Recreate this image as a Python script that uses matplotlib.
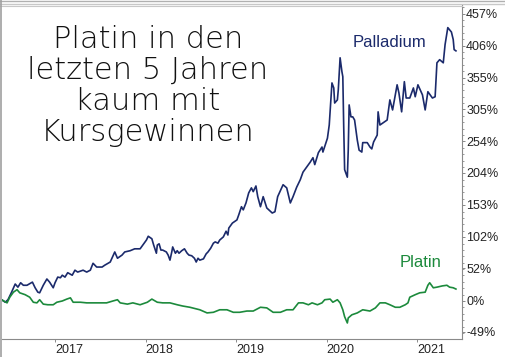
import matplotlib.pyplot as plt
from matplotlib.ticker import FixedLocator, MultipleLocator
from matplotlib.lines import Line2D

# Kursentwicklung seit Mai 2016 in Prozent (Zeit als Dezimaljahr)
pall_t = [2016.41, 2016.45, 2016.48, 2016.52, 2016.56, 2016.59, 2016.62, 2016.65, 2016.69, 2016.75,
          2016.78, 2016.81, 2016.83, 2016.87, 2016.91, 2016.94, 2016.98, 2017.00, 2017.03, 2017.06,
          2017.08, 2017.11, 2017.14, 2017.19, 2017.22, 2017.25, 2017.31, 2017.35, 2017.39, 2017.42,
          2017.46, 2017.52, 2017.55, 2017.61, 2017.66, 2017.69, 2017.74, 2017.77, 2017.83, 2017.88,
          2017.94, 2017.97, 2018.01, 2018.03, 2018.07, 2018.09, 2018.12, 2018.13, 2018.15, 2018.17,
          2018.19, 2018.23, 2018.25, 2018.27, 2018.29, 2018.30, 2018.33, 2018.35, 2018.37, 2018.40,
          2018.43, 2018.46, 2018.48, 2018.51, 2018.54, 2018.56, 2018.58, 2018.60, 2018.64, 2018.67,
          2018.69, 2018.72, 2018.75, 2018.77, 2018.80, 2018.82, 2018.86, 2018.87, 2018.89, 2018.91,
          2018.92, 2018.96, 2018.98, 2019.01, 2019.03, 2019.06, 2019.08, 2019.11, 2019.14, 2019.17,
          2019.19, 2019.22, 2019.24, 2019.27, 2019.30, 2019.34, 2019.40, 2019.43, 2019.46, 2019.52,
          2019.56, 2019.60, 2019.63, 2019.67, 2019.71, 2019.74, 2019.78, 2019.82, 2019.85, 2019.87,
          2019.91, 2019.95, 2019.96, 2020.01, 2020.03, 2020.06, 2020.08, 2020.09, 2020.12, 2020.13,
          2020.15, 2020.17, 2020.18, 2020.19, 2020.20, 2020.23, 2020.24, 2020.25, 2020.27, 2020.29,
          2020.31, 2020.34, 2020.36, 2020.39, 2020.40, 2020.45, 2020.48, 2020.50, 2020.52, 2020.56,
          2020.57, 2020.59, 2020.67, 2020.70, 2020.73, 2020.78, 2020.80, 2020.83, 2020.86, 2020.88,
          2020.92, 2020.96, 2020.98, 2021.01, 2021.06, 2021.09, 2021.12, 2021.17, 2021.20, 2021.22,
          2021.25, 2021.29, 2021.31, 2021.34, 2021.38, 2021.40, 2021.41, 2021.43]
pall_v = [2, -2, 2, 14, 27, 22, 29, 25, 25, 30,
          21, 14, 13, 25, 35, 30, 21, 29, 38, 37,
          41, 38, 45, 41, 49, 46, 49, 46, 49, 60,
          54, 54, 57, 62, 78, 68, 73, 78, 80, 83,
          83, 89, 97, 103, 99, 89, 76, 89, 91, 81,
          81, 78, 73, 65, 78, 86, 76, 80, 76, 80,
          83, 76, 73, 72, 68, 62, 68, 65, 67, 75,
          78, 84, 92, 94, 92, 97, 102, 105, 111, 105,
          116, 124, 126, 129, 137, 150, 145, 156, 172, 180,
          174, 183, 166, 150, 166, 148, 140, 142, 166, 185,
          180, 156, 166, 181, 193, 205, 213, 221, 228, 217,
          236, 245, 237, 259, 280, 347, 339, 315, 320, 336,
          387, 365, 357, 277, 209, 197, 240, 312, 293, 293,
          288, 256, 240, 237, 252, 252, 245, 242, 253, 264,
          301, 280, 288, 320, 304, 344, 331, 301, 349, 323,
          323, 339, 325, 344, 328, 304, 333, 323, 325, 379,
          384, 379, 408, 435, 428, 416, 400, 398]

plat_t = [2016.41, 2016.47, 2016.50, 2016.54, 2016.58, 2016.61, 2016.67, 2016.72, 2016.76, 2016.80,
          2016.83, 2016.87, 2016.92, 2016.98, 2017.02, 2017.08, 2017.13, 2017.17, 2017.20, 2017.28,
          2017.35, 2017.42, 2017.50, 2017.57, 2017.64, 2017.69, 2017.72, 2017.80, 2017.86, 2017.94,
          2018.02, 2018.07, 2018.13, 2018.19, 2018.27, 2018.35, 2018.41, 2018.49, 2018.60, 2018.68,
          2018.75, 2018.82, 2018.90, 2018.97, 2019.04, 2019.12, 2019.19, 2019.27, 2019.34, 2019.41,
          2019.49, 2019.56, 2019.63, 2019.69, 2019.74, 2019.80, 2019.84, 2019.90, 2019.95, 2019.98,
          2020.04, 2020.07, 2020.12, 2020.15, 2020.18, 2020.20, 2020.23, 2020.24, 2020.28, 2020.34,
          2020.40, 2020.48, 2020.54, 2020.59, 2020.65, 2020.70, 2020.76, 2020.81, 2020.87, 2020.90,
          2020.92, 2020.98, 2021.03, 2021.09, 2021.12, 2021.14, 2021.18, 2021.22, 2021.28, 2021.33,
          2021.36, 2021.40, 2021.43]
plat_v = [2, -3, 6, 14, 18, 13, 10, 6, -2, -3,
          2, -5, -6, -6, -2, 0, 3, 5, -2, -2,
          -3, -3, -3, -3, 0, 2, -3, -5, -3, -6,
          -2, 3, -2, -3, -3, -6, -8, -10, -14, -19,
          -18, -14, -14, -18, -18, -16, -16, -10, -11, -18,
          -18, -14, -14, -3, -3, -6, -3, -6, -3, 2,
          3, -2, 2, -3, -14, -25, -35, -27, -22, -19,
          -14, -16, -11, -3, -3, -6, -10, -10, -6, -3,
          6, 10, 13, 14, 25, 29, 21, 22, 24, 25,
          22, 21, 19]

year_ticks = [2017, 2018, 2019, 2020, 2021]
pct_ticks = [-49, 0, 52, 102, 153, 204, 254, 305, 355, 406, 457]
pct_labels = ['%d%%' % p for p in pct_ticks]

title = 'Platin in den\nletzten 5 Jahren\nkaum mit\nKursgewinnen'

navy = '#1b2a6b'
green = '#1c8a3c'

fig = plt.figure(figsize=(5.06, 3.57), dpi=100)
ax = fig.add_axes([2/506, 18/357, 460/506, 334/357])

ax.plot(pall_t, pall_v, color=navy, lw=1.2)
ax.plot(plat_t, plat_v, color=green, lw=1.2)

ax.set_xlim(2016.414, 2021.497)
ax.set_ylim(-60.5, 471)

ax.yaxis.tick_right()
ax.yaxis.set_major_locator(FixedLocator(pct_ticks))
ax.set_yticklabels(pct_labels)
ax.yaxis.set_minor_locator(MultipleLocator(10.16))
ax.xaxis.set_major_locator(FixedLocator(year_ticks))
ax.set_xticklabels([str(y) for y in year_ticks], ha='left')

for side in ['left', 'top']:
    ax.spines[side].set_visible(False)
for side in ['right', 'bottom']:
    ax.spines[side].set_color('#8a8a8a')
    ax.spines[side].set_linewidth(0.8)
ax.tick_params(axis='y', which='major', length=2.5, width=0.7, color='#8a8a8a',
               pad=0.5, labelsize=9, labelcolor='#222222')
ax.tick_params(axis='y', which='minor', length=1.2, width=0.6, color='#8a8a8a')
ax.tick_params(axis='x', which='major', length=2.5, width=0.7, color='#8a8a8a',
               pad=1, labelsize=9, labelcolor='#222222')
for lab in ax.get_xticklabels() + ax.get_yticklabels():
    lab.set_family('Liberation Sans')

ax.text(2020.70, 412, 'Palladium', color=navy, fontsize=12, family='Liberation Sans',
        ha='center', va='center')
ax.text(2021.04, 62, 'Platin', color=green, fontsize=12, family='Liberation Sans',
        ha='center', va='center')

fig.text(148/506, 1 - 25/357, title, ha='center', va='top', fontsize=22,
         family='DejaVu Sans', fontweight='light', linespacing=1.08, color='#111111')

# grauer Rahmen oben und links
fig.add_artist(Line2D([0, 1], [1 - 1/357, 1 - 1/357], color='#b0b0b0', lw=1))
fig.add_artist(Line2D([0, 1], [1 - 4/357, 1 - 4/357], color='#c8c8c8', lw=1))
fig.add_artist(Line2D([0, 462/506], [1 - 5.5/357, 1 - 5.5/357], color='#c8c8c8', lw=0.8))
fig.add_artist(Line2D([1/506, 1/506], [0, 1], color='#a0a0a0', lw=1.2))

fig.savefig('out.png', dpi=100)
